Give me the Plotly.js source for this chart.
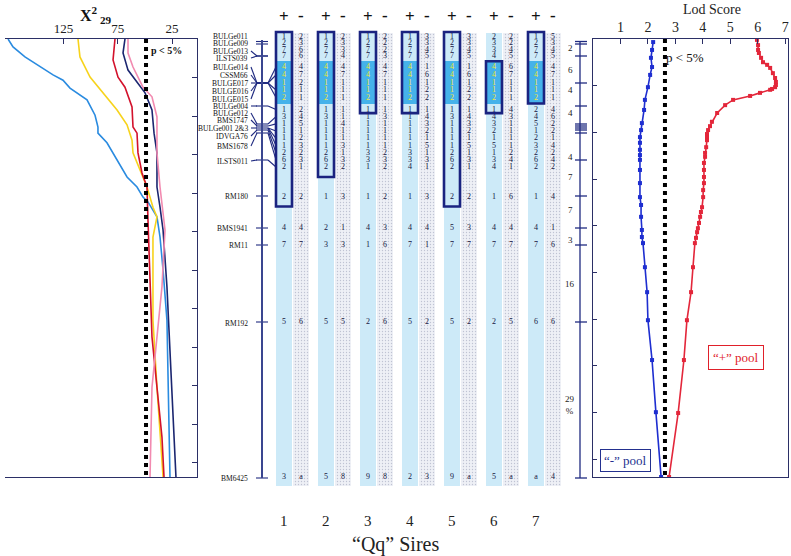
<!DOCTYPE html>
<html><head><meta charset="utf-8">
<script src="https://cdn.plot.ly/plotly-3.0.1.min.js"></script>
<style>html,body{margin:0;padding:0;background:#fff}#chart{width:791px;height:556px}</style>
</head><body><div id="chart"></div>
<script>
// ---------------- DATA ----------------
// Left panel: chi-square (29 df) along the chromosome (position 0 = top, 100 = bottom)
const chiBlueVal = [176.2,171.6,160.6,146.7,134.7,125.5,119.1,103.4,96.0,93.3,93.3,85.0,75.7,66.5,57.3,51.8,47.2,38.9,36.1,33.3,29.7,28.7,26.9];
const chiBluePos = [0,1.8,4.1,6.4,8.2,9.4,11.2,13.9,17.4,20.1,21.5,23.7,27.6,31.5,33.8,36.1,37.2,40.6,45.2,52.7,64.2,79.5,100];
const chiYellowVal = [111.7,109.9,100.6,88.7,75.7,66.5,61.9,61.0,54.5,48.1,42.6,38.9,42.6,42.6,42.6,38.9,33.3];
const chiYellowPos = [0,4.1,8.7,12.3,16.2,19.6,23.1,26.0,29.9,33.8,38.4,40.6,45.2,52.7,64.2,79.5,100];
const chiRedVal = [77.6,79.4,74.8,68.4,61.9,61.0,57.3,56.4,52.7,48.1,47.2,45.3,43.5,38.9,34.3,32.4];
const chiRedPos = [0,4.8,8.7,11.0,15.5,20.1,21.5,26.0,30.6,33.8,41.3,56.6,68.0,79.5,90.9,100];
const chiNavyVal = [68.4,70.2,65.6,57.3,49.9,43.5,42.6,41.6,38.9,38.9,36.1,33.3,29.7,26.9,24.1,21.4];
const chiNavyPos = [0,3.2,7.1,10.0,12.3,16.2,20.1,21.5,26.0,33.8,38.4,43.6,56.6,71.7,87.0,100];
const chiPinkVal = [65.6,65.6,61.0,51.8,43.5,38.9,38.9,38.9,36.1,33.3,31.5,34.3,38.9,43.5,45.3];
const chiPinkPos = [0,3.2,6.4,11.0,13.2,17.8,20.1,26.0,33.8,39.7,43.6,56.6,68.0,79.5,100];
const chiThreshold = 49;
const chiTicks = [125,75,25];

// Right panel: LOD scores
const lodMinusVal = [2.19,2.15,2.11,2.15,2.08,2.00,1.89,1.86,1.78,1.75,1.71,1.71,1.71,1.71,1.71,1.71,1.71,1.71,1.75,1.75,1.78,1.78,1.82,1.89,1.97,2.00,2.15,2.29,2.48];
const lodMinusPos = [0.7,2.5,4.3,6.4,8.2,11.0,13.9,16.2,19.2,20.8,22.4,23.7,25.3,26.5,27.6,29.9,32.9,36.1,37.9,40.6,43.6,45.2,46.6,52.1,57.8,64.2,73.3,85.2,100];
const lodPlusVal = [5.97,6.01,6.01,6.04,6.12,6.19,6.34,6.45,6.55,6.63,6.66,6.66,6.63,6.52,6.45,6.08,5.72,5.10,4.81,4.52,4.33,4.26,4.19,4.15,4.15,4.15,4.12,4.08,4.08,4.04,4.04,4.04,4.04,4.01,4.01,3.97,3.93,3.90,3.86,3.82,3.79,3.75,3.71,3.64,3.57,3.42,3.31,3.10,2.77];
const lodPlusPos = [0.2,1.4,2.5,3.2,4.3,5.3,5.9,6.6,7.8,8.9,9.8,10.5,11.0,11.4,11.6,12.3,13.0,13.9,15.1,16.9,18.9,19.9,20.8,21.7,22.4,23.1,24.7,26.0,26.9,28.3,29.9,31.5,32.9,34.5,36.1,38.4,39.5,40.6,42.0,43.2,44.1,45.4,46.6,52.1,57.8,64.2,73.3,85.4,100];
const lodThreshold = 2.62;
const lodTicks = [1,2,3,4,5,6,7];

// Middle panel: markers and sire haplotypes
const markerNames = ['BULGe011','BULGe009','BULGe013','ILSTS039','BULGe014','CSSM66','BULGE017','BULGE016','BULGE015','BULGe004','BULGe012','BMS1747','BULGe001 2&3','IDVGA76','BMS1678','ILSTS011','RM180','BMS1941','RM11','RM192','BM6425'];
const markerRowCount = [1,1,1,1,1,1,1,1,1,1,1,1,3,1,1,1,1,1,1,1,1];
const sires = ['1','2','3','4','5','6','7'];
const plusAlleles = [
 ['1','2','7','7','4','4','1','1','2','1','3','1','1','1','1','2','6','2','2','4','7','5','3'],
 ['1','2','7','7','4','4','1','1','2','1','3','1','1','1','1','2','6','2','1','2','3','5','5'],
 ['1','2','7','7','4','4','1','1','2','1','1','1','1','1','1','3','3','1','1','4','1','2','9'],
 ['1','2','7','7','4','4','1','1','2','1','1','1','1','1','1','3','3','4','1','4','7','5','2'],
 ['1','2','7','7','4','4','1','1','2','1','3','1','1','1','1','2','6','2','2','5','7','5','9'],
 ['2','3','3','4','4','4','1','1','2','1','4','3','2','1','5','1','3','4','1','4','7','2','5'],
 ['1','2','7','7','4','4','1','1','2','2','4','5','1','2','3','2','6','2','1','4','7','6','a']
];
const minusAlleles = [
 ['2','3','6','6','4','7','2','1','1','2','4','5','1','2','3','2','3','1','2','4','7','6','a'],
 ['2','3','3','4','4','7','1','1','1','1','1','4','1','1','3','1','3','2','3','1','3','5','8'],
 ['2','2','2','3','4','7','1','1','1','1','3','1','1','1','1','2','3','2','2','3','6','6','8'],
 ['3','3','4','5','1','6','1','2','2','1','4','3','2','1','5','1','3','1','3','4','1','2','3'],
 ['3','3','4','5','1','6','1','2','2','1','4','3','2','1','5','1','3','1','2','3','7','2','a'],
 ['2','2','4','5','6','7','1','1','1','4','3','1','1','1','1','2','4','1','6','4','7','5','a'],
 ['5','3','4','5','4','7','1','1','1','4','6','2','2','1','4','2','4','2','4','1','6','6','4']
];
const sharedFrom = [0,0,0,0,0,4,0];   // first row of boxed (shared) haplotype
const sharedTo   = [18,17,9,9,18,9,8]; // last row of boxed haplotype
const qtlRows = [4,5,6,7,8];           // highlighted rows
const intervalText = ['2','6','4','4','4','7','7','3','16','29<br>%'];

// ---------------- LAYOUT HELPERS (drawing positions, px) ----------------
const rowY   = [36.5,43,49.5,55.5,67,75,82.5,90,97.5,109.5,116.7,123.9,131.1,138.3,145.5,152.7,159.9,167,196.5,228,245,322,477];
const labelY = [36,43,51,58,67,75,83,91,99,106,113,120,128,136,146,161,196,228,245,323,478];
const mapY   = [41.5,44,56,56,83,83,83,83,83,106,124,126,128,130,133,160,196,228,245,322,478];
const intervalY = [48,70,90,113,157,177,210,240,284,405];
const colX = s => 284 + 42*s;
const colXm = s => 284 + 42*s + 17;
const SERIF = 'Liberation Serif, Times New Roman, serif';
const NAVY = '#1F2A80';

// ---------------- TRACES ----------------
const traces = [];
function chi(v,p,c){traces.push({x:v,y:p,xaxis:'x',yaxis:'y',mode:'lines',line:{color:c,width:1.6},hoverinfo:'skip'});}
chi(chiBlueVal,chiBluePos,'#2A8BE0');
chi(chiYellowVal,chiYellowPos,'#F7D31C');
chi(chiRedVal,chiRedPos,'#D3122C');
chi(chiNavyVal,chiNavyPos,'#1B2670');
chi(chiPinkVal,chiPinkPos,'#F28AB0');
traces.push({x:[chiThreshold,chiThreshold],y:[0,100],xaxis:'x',yaxis:'y',mode:'lines',line:{color:'#000',width:4,dash:'dot'}});

traces.push({x:lodMinusVal,y:lodMinusPos,xaxis:'x2',yaxis:'y2',mode:'lines+markers',line:{color:'#1E2ED0',width:1.6},marker:{symbol:'square',size:4,color:'#1E2ED0'}});
traces.push({x:lodPlusVal,y:lodPlusPos,xaxis:'x2',yaxis:'y2',mode:'lines+markers',line:{color:'#E3263A',width:1.6},marker:{symbol:'square',size:4,color:'#E3263A'}});
traces.push({x:[lodThreshold,lodThreshold],y:[0,100],xaxis:'x2',yaxis:'y2',mode:'lines',line:{color:'#000',width:4,dash:'dot'}});

// middle: strips
const plusX = sires.map((s,i)=>colX(i)), minusX = sires.map((s,i)=>colXm(i));
traces.push({type:'bar',x:plusX,y:sires.map(()=>453),base:sires.map(()=>33),width:16,xaxis:'x3',yaxis:'y3',marker:{color:'#CDEAF8',line:{width:0}},hoverinfo:'skip'});
traces.push({type:'bar',x:minusX,y:sires.map(()=>453),base:sires.map(()=>33),width:16,xaxis:'x3',yaxis:'y3',
  marker:{color:'#EDEFF5',line:{width:0},pattern:{shape:'.',fgcolor:'#BFC3D3',bgcolor:'#EEF0F6',size:3,solidity:0.15}},hoverinfo:'skip'});
const hlTop = (rowY[qtlRows[0]-1]+rowY[qtlRows[0]])/2, hlBot=(rowY[qtlRows[qtlRows.length-1]]+rowY[qtlRows[qtlRows.length-1]+1])/2;
traces.push({type:'bar',x:plusX,y:sires.map(()=>hlBot-hlTop),base:sires.map(()=>hlTop),width:16,xaxis:'x3',yaxis:'y3',marker:{color:'#45B2EA',line:{width:0}},hoverinfo:'skip'});

// numbers
const tx=[],ty=[],tt=[],tc=[];
sires.forEach((s,i)=>{
  plusAlleles[i].forEach((a,r)=>{tx.push(colX(i));ty.push(rowY[r]);tt.push(a);tc.push(qtlRows.includes(r)?'#F3E63A':'#15163F');});
  minusAlleles[i].forEach((a,r)=>{tx.push(colXm(i));ty.push(rowY[r]);tt.push(a);tc.push('#15163F');});
});
traces.push({x:tx,y:ty,text:tt,mode:'text',xaxis:'x3',yaxis:'y3',textfont:{family:SERIF,size:8,color:tc},hoverinfo:'skip'});

// map lines (middle chromosome)
const lx=[],ly=[];
let r0=0;
markerNames.forEach((m,k)=>{
  const rows=[];for(let j=0;j<markerRowCount[k];j++)rows.push(r0+j); r0+=markerRowCount[k];
  if(k>=2 && k<=15){lx.push(251,257,null);ly.push(labelY[k],mapY[k],null);}
  lx.push(256,268,null);ly.push(mapY[k],mapY[k],null);
  rows.forEach(r=>{ if(k>=4 && Math.abs(rowY[r]-mapY[k])>2){lx.push(268,276,null);ly.push(mapY[k],rowY[r],null);} });
});
traces.push({x:lx,y:ly,mode:'lines',xaxis:'x3',yaxis:'y3',line:{color:NAVY,width:1.1},hoverinfo:'skip'});
traces.push({x:[262,262],y:[40,478],mode:'lines',xaxis:'x3',yaxis:'y3',line:{color:'#3A4690',width:2},hoverinfo:'skip'});
// right chromosome
const rx=[580,580,null],ry=[41,478,null];
[...new Set(mapY)].forEach(y=>{rx.push(575,587,null);ry.push(y,y,null);});
traces.push({x:rx,y:ry,mode:'lines',xaxis:'x3',yaxis:'y3',line:{color:NAVY,width:1.3},hoverinfo:'skip'});

// ---------------- SHAPES ----------------
const shapes=[];
const rowTop = r => r===0 ? rowY[0]-4.5 : (rowY[r-1]+rowY[r])/2;
const rowBot = r => Math.min((rowY[r]+rowY[r+1])/2, rowY[r]+10);
sires.forEach((s,i)=>{
  shapes.push({type:'rect',xref:'x3',yref:'y3',x0:colX(i)-8,x1:colX(i)+8,y0:rowTop(sharedFrom[i]),y1:rowBot(sharedTo[i]),line:{color:'#1A2380',width:2.6},fillcolor:'rgba(0,0,0,0)',layer:'above'});
});

// ---------------- ANNOTATIONS ----------------
const ann=[];
const A=(x,y,text,opt={})=>ann.push(Object.assign({xref:'x3',yref:'y3',x,y,text,showarrow:false,font:{family:SERIF,size:12,color:'#111'}},opt));
markerNames.forEach((m,k)=>A(250,labelY[k],m,{xanchor:'right',font:{family:SERIF,size:7.5,color:'#111'}}));
sires.forEach((s,i)=>{
  A(colX(i),16,'<b>+</b>',{font:{family:SERIF,size:17,color:'#111'}});
  A(colXm(i),15,'<b>-</b>',{font:{family:SERIF,size:17,color:'#111'}});
  A(colX(i),521,s,{font:{family:SERIF,size:15,color:'#222'}});
});
intervalText.forEach((t,i)=>A(570,intervalY[i],t,{font:{family:SERIF,size:9,color:'#222'}}));
A(395,544,'“Qq” Sires',{font:{family:SERIF,size:20,color:'#222'}});
A(712,9,'Lod Score',{font:{family:SERIF,size:14,color:'#222'}});
A(96,15,'<b>X</b><sup><b>2</b></sup><sub><b> 29</b></sub>',{font:{family:SERIF,size:16,color:'#111'}});
A(166,50,'<b>p &lt; 5%</b>',{font:{family:SERIF,size:10,color:'#111'}});
A(685,57,'p &lt; 5%',{font:{family:SERIF,size:13,color:'#111'}});
A(736,357,'“+” pool',{font:{family:SERIF,size:13,color:'#E0202A'},bordercolor:'#E0202A',borderwidth:1,borderpad:4});
A(625,460,'“-” pool',{font:{family:SERIF,size:13,color:'#23308F'},bordercolor:'#23308F',borderwidth:1,borderpad:3});

// ---------------- LAYOUT ----------------
const yDom=[1-477/556,1-39/556];
const layout={
  width:791,height:556,margin:{l:0,r:0,t:0,b:0},paper_bgcolor:'#fff',plot_bgcolor:'rgba(0,0,0,0)',
  showlegend:false,hovermode:false,bargap:0,barmode:'overlay',
  xaxis:{domain:[5/791,197/791],anchor:'y',side:'top',range:[179,2],tickvals:chiTicks,
    ticks:'inside',ticklen:5,tickcolor:'#2B2F66',showline:true,linecolor:'#2B2F66',linewidth:1.2,mirror:true,showgrid:false,zeroline:false,
    tickfont:{family:SERIF,size:13,color:'#222'},fixedrange:true},
  yaxis:{domain:yDom,anchor:'x',side:'right',range:[100,0],tickmode:'linear',tick0:0,dtick:8.79,ticks:'inside',ticklen:5,tickcolor:'#2B2F66',
    showticklabels:false,showline:true,linecolor:'#2B2F66',linewidth:1.2,showgrid:false,zeroline:false,fixedrange:true},
  xaxis2:{domain:[593/791,788/791],anchor:'y2',side:'top',range:[0,7.1],tickvals:lodTicks,ticks:'inside',ticklen:5,tickcolor:'#2B2F66',
    showline:true,linecolor:'#2B2F66',linewidth:1.2,mirror:true,showgrid:false,zeroline:false,tickfont:{family:SERIF,size:14,color:'#222'},fixedrange:true},
  yaxis2:{domain:yDom,anchor:'x2',range:[100,0],tickmode:'linear',tick0:0,dtick:10.66,ticks:'inside',ticklen:4,tickcolor:'#2B2F66',
    showticklabels:false,showline:true,linecolor:'#2B2F66',linewidth:1.2,mirror:true,showgrid:false,zeroline:false,fixedrange:true},
  xaxis3:{domain:[0,1],anchor:'y3',range:[0,791],visible:false,fixedrange:true},
  yaxis3:{domain:[0,1],anchor:'x3',range:[556,0],visible:false,fixedrange:true},
  shapes,annotations:ann
};
Plotly.newPlot('chart',traces,layout,{displayModeBar:false,staticPlot:true});
</script></body></html>
